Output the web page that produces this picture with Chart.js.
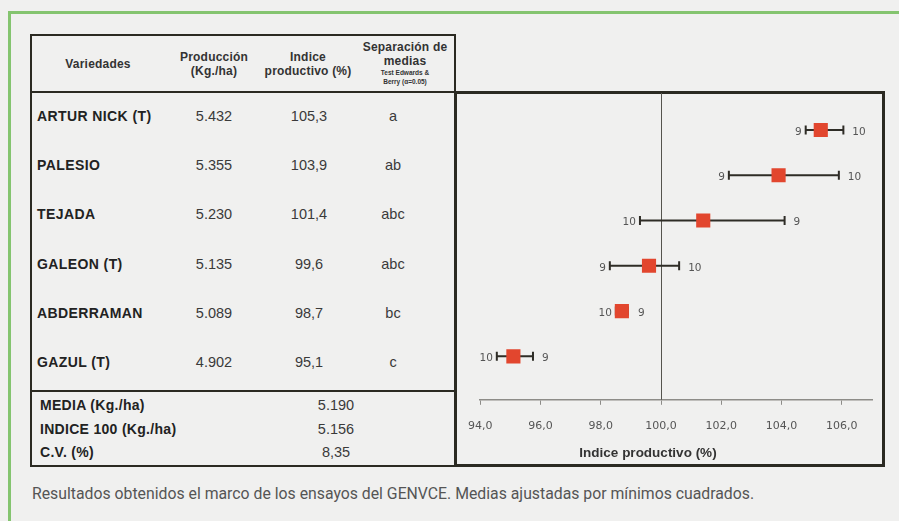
<!DOCTYPE html>
<html lang="es">
<head>
<meta charset="utf-8">
<title>Índice productivo por variedad</title>
<script src="https://cdn.jsdelivr.net/npm/chart.js@4/dist/chart.umd.min.js"></script>
<style>
  html, body { margin: 0; padding: 0; background: #f0f0ef; }
  body { width: 899px; height: 521px; position: relative; overflow: hidden; font-family: "Liberation Sans", Arial, sans-serif; color: #2a2a26; }
  .frame { position: absolute; left: 8px; top: 11px; width: 900px; height: 520px; border-left: 3px solid #84c46f; border-top: 3px solid #84c46f; }
  .box { position: absolute; border: 2px solid #2b2a22; box-sizing: border-box; }
  .t { position: absolute; white-space: nowrap; transform: translateY(-50%); }
  .c { transform: translate(-50%, -50%); text-align: center; }
  .hd { font-weight: bold; font-size: 12px; line-height: 14px; color: #333; letter-spacing: 0.2px; }
  .sm { font-size: 6.5px; line-height: 9px; font-weight: bold; letter-spacing: 0; }
  .var { font-weight: bold; font-size: 14px; color: #222; letter-spacing: 0.4px; }
  .num { font-size: 14.5px; color: #3a3a3a; }
  .res { font-weight: bold; font-size: 14px; color: #222; letter-spacing: 0.3px; }
  .cap { position: absolute; left: 32px; top: 484px; font-family: Roboto, sans-serif; font-size: 15.8px; color: #555; white-space: nowrap; }
  .atitle { font-weight: bold; font-size: 13.5px; color: #333; }
  #grafico-wrap { position: absolute; left: 453px; top: 93px; width: 429px; height: 371px; }
</style>
</head>
<body>
<div class="frame"></div>

<!-- cabecera de la tabla -->
<div class="box" style="left:30px; top:34px; width:426px; height:59px;"></div>
<!-- filas de variedades -->
<div class="box" style="left:30px; top:91px; width:426px; height:301px;"></div>
<!-- resumen -->
<div class="box" style="left:30px; top:390px; width:426px; height:77px;"></div>
<!-- caja del gráfico -->
<div class="box" style="left:454px; top:91px; width:431px; height:376px; border-width:3px;"></div>

<div id="grafico-wrap"><canvas id="grafico"></canvas></div>
<div id="tabla"></div>
<div class="cap">Resultados obtenidos el marco de los ensayos del GENVCE. Medias ajustadas por mínimos cuadrados.</div>

<script>
// datos de la tabla
const variedades = ["ARTUR NICK (T)", "PALESIO", "TEJADA", "GALEON (T)", "ABDERRAMAN", "GAZUL (T)"];
const produccion = ["5.432", "5.355", "5.230", "5.135", "5.089", "4.902"];
const indice = [105.3, 103.9, 101.4, 99.6, 98.7, 95.1];
const separacion = ["a", "ab", "abc", "abc", "bc", "c"];

// intervalos y número de ensayos en cada extremo
const limInf = [104.8, 102.25, 99.3, 98.3, 98.5, 94.55];
const limSup = [106.05, 105.9, 104.1, 100.6, 98.9, 95.75];
const nInf = ["9", "9", "10", "9", "10", "10"];
const nSup = ["10", "10", "9", "10", "9", "9"];

const resumenEtiquetas = ["MEDIA (Kg./ha)", "INDICE 100 (Kg./ha)", "C.V. (%)"];
const resumenValores = ["5.190", "5.156", "8,35"];

const ejeMin = 94;
const ejeMax = 107;
const ejePaso = 2;
const referencia = 100;

const coma = v => v.toFixed(1).replace(".", ",");

// ---- tabla ----
const tabla = document.getElementById("tabla");
function texto(x, y, html, cls, centrado) {
  const d = document.createElement("div");
  d.className = "t " + cls + (centrado ? " c" : "");
  d.style.left = x + "px";
  d.style.top = y + "px";
  d.innerHTML = html;
  tabla.appendChild(d);
}

texto(98, 64, "Variedades", "hd", true);
texto(214, 64, "Producción<br>(Kg./ha)", "hd", true);
texto(308, 64, "Indice<br>productivo (%)", "hd", true);
texto(405, 63, "Separación de<br>medias<div class='sm'>Test Edwards &amp;<br>Berry (α=0.05)</div>", "hd", true);

const filaY0 = 116, filaPaso = 49.2;
variedades.forEach((v, i) => {
  const y = filaY0 + i * filaPaso;
  texto(37, y, v, "var", false);
  texto(214, y, produccion[i], "num", true);
  texto(309, y, coma(indice[i]), "num", true);
  texto(393, y, separacion[i], "num", true);
});

resumenEtiquetas.forEach((e, i) => {
  const y = 405 + i * 23.5;
  texto(40, y, e, "res", false);
  texto(336, y, resumenValores[i], "num", true);
});

// título del eje, bajo el gráfico
texto(648, 452, "Indice productivo (%)", "atitle", true);

// ---- gráfico ----
const filas = variedades.map((_, i) => i);

const barrasError = {
  id: "barrasError",
  beforeDatasetsDraw(chart) {
    const { ctx, scales: { x, y }, chartArea } = chart;
    ctx.save();
    // línea del índice 100
    ctx.strokeStyle = "#55544e";
    ctx.lineWidth = 1;
    ctx.beginPath();
    ctx.moveTo(Math.round(x.getPixelForValue(referencia)) + 0.5, 0);
    ctx.lineTo(Math.round(x.getPixelForValue(referencia)) + 0.5, chartArea.bottom);
    ctx.stroke();

    ctx.strokeStyle = "#2e2c26";
    ctx.lineWidth = 2;
    ctx.font = "10.5px 'DejaVu Sans'";
    ctx.fillStyle = "#555";
    ctx.textBaseline = "middle";
    filas.forEach(i => {
      const yp = y.getPixelForValue(i);
      const x1 = x.getPixelForValue(limInf[i]);
      const x2 = x.getPixelForValue(limSup[i]);
      const xc = x.getPixelForValue(indice[i]);
      ctx.beginPath();
      ctx.moveTo(x1, yp); ctx.lineTo(x2, yp);
      ctx.moveTo(x1, yp - 4.5); ctx.lineTo(x1, yp + 4.5);
      ctx.moveTo(x2, yp - 4.5); ctx.lineTo(x2, yp + 4.5);
      ctx.stroke();
      ctx.textAlign = "right";
      ctx.fillText(nInf[i], x1 - 4, yp + 2);
      ctx.textAlign = "left";
      ctx.fillText(nSup[i], Math.max(x2, xc + 7) + 9, yp + 2);
    });
    ctx.restore();
  }
};

new Chart(document.getElementById("grafico"), {
  type: "scatter",
  data: {
    datasets: [{
      data: filas.map(i => ({ x: indice[i], y: i })),
      backgroundColor: "#e2462e",
      borderColor: "#e2462e",
      pointStyle: "rect",
      pointRadius: 10,
      pointHoverRadius: 10,
      borderWidth: 0
    }]
  },
  options: {
    responsive: true,
    maintainAspectRatio: false,
    animation: false,
    layout: { autoPadding: false, padding: { left: 18, right: 10, top: 0, bottom: 16 } },
    plugins: { legend: { display: false }, tooltip: { enabled: false } },
    scales: {
      x: {
        type: "linear",
        min: ejeMin,
        max: ejeMax,
        border: { color: "#8d8c88", width: 1.5 },
        grid: { drawOnChartArea: false, drawTicks: true, tickLength: 5, color: "#8d8c88" },
        ticks: {
          stepSize: ejePaso,
          includeBounds: false,
          padding: 15,
          color: "#555",
          font: { family: "'DejaVu Sans'", size: 11 },
          callback: v => coma(v)
        }
      },
      y: {
        type: "linear",
        display: false,
        reverse: true,
        min: -0.817,
        max: 5.96
      }
    }
  },
  plugins: [barrasError]
});
</script>
</body>
</html>
